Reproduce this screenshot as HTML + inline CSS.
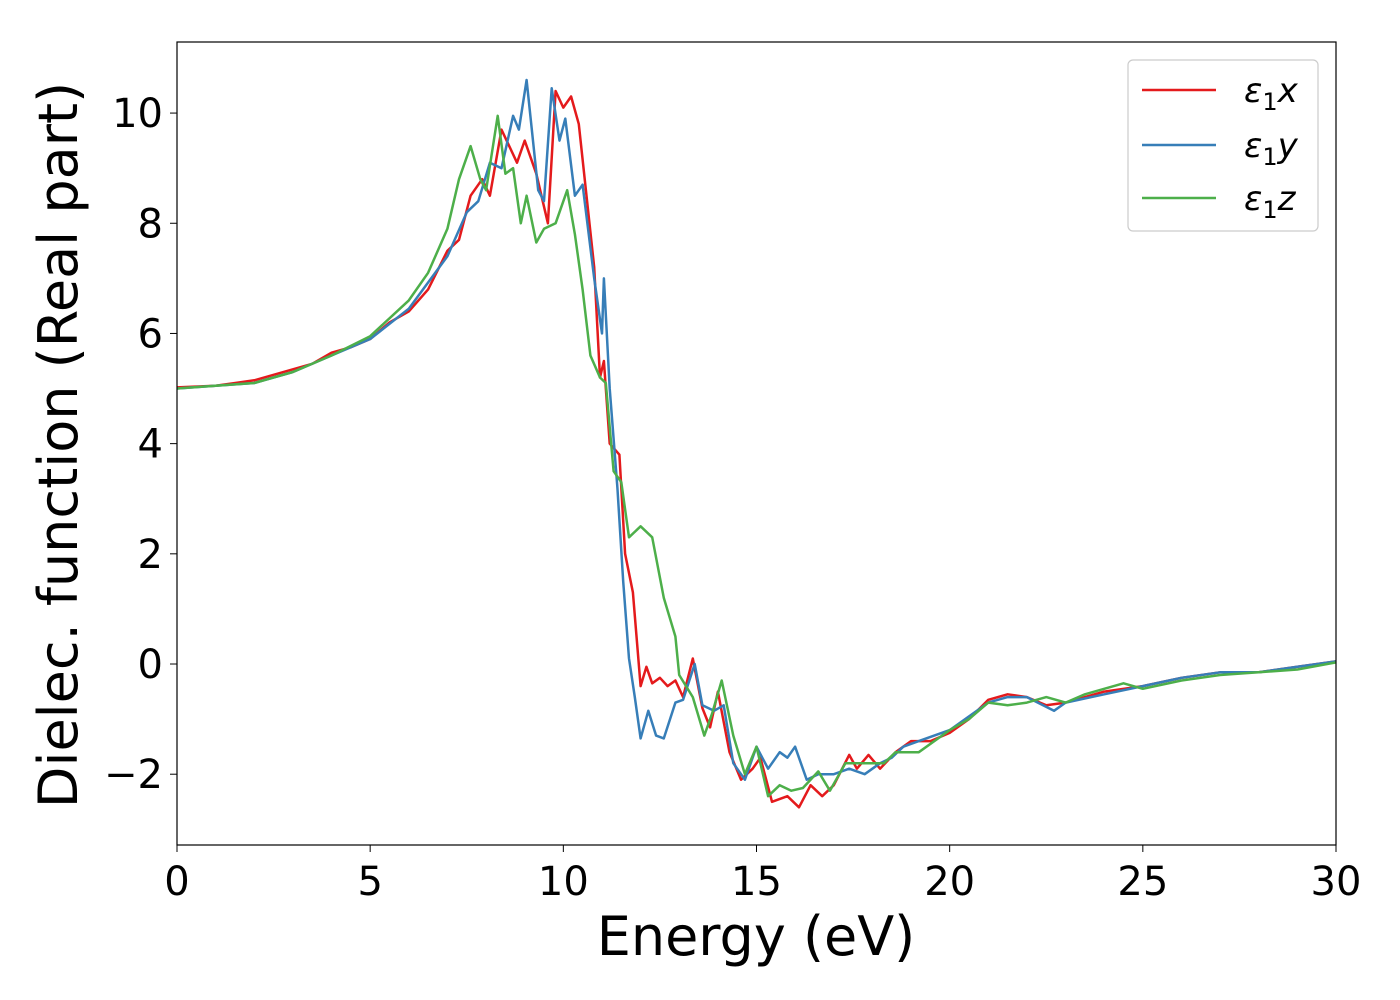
<!DOCTYPE html>
<html><head><meta charset="utf-8"><style>
body{margin:0;background:#fff}
svg{display:block;font-family:"DejaVu Sans","Liberation Sans",sans-serif}
</style></head><body>
<svg id="chart" width="1400" height="1000" viewBox="0 0 1400 1000" xmlns="http://www.w3.org/2000/svg">
<rect width="1400" height="1000" fill="#fff"/>
<g id="ticks"></g>
<g id="series"></g>
<rect x="177" y="42" width="1159" height="803" fill="none" stroke="#000" stroke-width="1.2"/>
<text x="756" y="955" font-size="54" text-anchor="middle">Energy (eV)</text>
<text transform="translate(77,445) rotate(-90)" font-size="54" text-anchor="middle">Dielec. function (Real part)</text>
<g>
<rect x="1128" y="60" width="190" height="171" rx="5" fill="#fff" stroke="#ccc" stroke-width="1.2"/>
<line x1="1142" y1="90" x2="1216" y2="90" stroke="#e41a1c" stroke-width="2.5"/>
<text x="1244" y="102" font-size="34" font-style="italic">ε<tspan font-size="24" dy="8" font-style="normal">1</tspan><tspan dy="-8">x</tspan></text>
<line x1="1142" y1="145" x2="1216" y2="145" stroke="#377eb8" stroke-width="2.5"/>
<text x="1244" y="157" font-size="34" font-style="italic">ε<tspan font-size="24" dy="8" font-style="normal">1</tspan><tspan dy="-8">y</tspan></text>
<line x1="1142" y1="198" x2="1216" y2="198" stroke="#4daf4a" stroke-width="2.5"/>
<text x="1244" y="210" font-size="34" font-style="italic">ε<tspan font-size="24" dy="8" font-style="normal">1</tspan><tspan dy="-8">z</tspan></text>
</g>
</svg>
<script>
const xTicks=[0,5,10,15,20,25,30];
const yTicks=[-2,0,2,4,6,8,10];
const redX=[0,1,2,3,3.5,4,4.5,5,5.5,6,6.5,7,7.3,7.6,7.9,8.1,8.4,8.8,9.0,9.3,9.6,9.8,10.0,10.2,10.4,10.6,10.8,10.95,11.05,11.2,11.45,11.6,11.8,12.0,12.15,12.3,12.5,12.7,12.9,13.1,13.35,13.6,13.8,14.0,14.3,14.6,14.9,15.1,15.4,15.8,16.1,16.4,16.7,17.0,17.4,17.6,17.9,18.2,18.6,19.0,19.5,20,20.5,21,21.5,22,22.5,23,23.5,24,25,26,27,28,29,30];
const redY=[5.02,5.05,5.15,5.35,5.45,5.65,5.75,5.9,6.2,6.4,6.8,7.5,7.7,8.5,8.8,8.5,9.7,9.1,9.5,8.9,8.0,10.4,10.1,10.3,9.8,8.5,7.2,5.2,5.5,4.0,3.8,2.0,1.3,-0.4,-0.05,-0.35,-0.25,-0.4,-0.3,-0.6,0.1,-0.8,-1.15,-0.5,-1.6,-2.1,-1.9,-1.7,-2.5,-2.4,-2.6,-2.2,-2.4,-2.2,-1.65,-1.9,-1.65,-1.9,-1.6,-1.4,-1.4,-1.25,-1.0,-0.65,-0.55,-0.6,-0.75,-0.7,-0.6,-0.5,-0.4,-0.25,-0.15,-0.15,-0.05,0.05];
const blueX=[0,2,3,4,5,6,7,7.5,7.8,8.1,8.4,8.7,8.85,9.05,9.35,9.5,9.7,9.9,10.05,10.3,10.5,10.8,11.0,11.05,11.2,11.4,11.55,11.7,11.85,12.0,12.2,12.4,12.6,12.9,13.1,13.4,13.6,13.9,14.15,14.4,14.7,15.0,15.3,15.6,15.8,16.0,16.3,16.6,17.0,17.4,17.8,18.2,18.5,18.8,19.2,20,20.5,21,21.5,22,22.7,23,24,25,26,27,28,29,30];
const blueY=[5.0,5.1,5.3,5.6,5.9,6.45,7.4,8.2,8.4,9.1,9.0,9.95,9.7,10.6,8.6,8.4,10.45,9.5,9.9,8.5,8.7,7.0,6.0,7.0,5.0,3.2,1.5,0.1,-0.6,-1.35,-0.85,-1.3,-1.35,-0.7,-0.65,0.0,-0.75,-0.85,-0.75,-1.8,-2.1,-1.5,-1.9,-1.6,-1.7,-1.5,-2.1,-2.0,-2.0,-1.9,-2.0,-1.8,-1.7,-1.5,-1.4,-1.2,-0.95,-0.7,-0.6,-0.6,-0.85,-0.7,-0.55,-0.4,-0.25,-0.15,-0.15,-0.05,0.05];
const greenX=[0,2,3,4,5,6,6.5,7,7.3,7.6,7.85,8.0,8.3,8.5,8.7,8.9,9.05,9.3,9.5,9.8,10.1,10.3,10.5,10.7,10.95,11.1,11.3,11.5,11.7,12.0,12.3,12.6,12.9,13.0,13.35,13.65,13.85,14.1,14.4,14.7,15.0,15.3,15.6,15.9,16.2,16.6,16.9,17.3,17.8,18.3,18.6,19.2,20,20.5,21,21.5,22,22.5,23,23.5,24.5,25,26,27,28,29,30];
const greenY=[5.0,5.1,5.3,5.6,5.95,6.6,7.1,7.9,8.8,9.4,8.8,8.6,9.95,8.9,9.0,8.0,8.5,7.65,7.9,8.0,8.6,7.8,6.8,5.6,5.2,5.1,3.5,3.3,2.3,2.5,2.3,1.2,0.5,-0.2,-0.6,-1.3,-0.9,-0.3,-1.3,-2.0,-1.5,-2.4,-2.2,-2.3,-2.25,-1.95,-2.3,-1.8,-1.8,-1.8,-1.6,-1.6,-1.2,-1.0,-0.7,-0.75,-0.7,-0.6,-0.7,-0.55,-0.35,-0.45,-0.3,-0.2,-0.15,-0.1,0.03];
const X0=177,X1=1336,Y0=42,Y1=845,XMIN=0,XMAX=30,YMIN=-3.285,YMAX=11.29;
function sx(v){return X0+(v-XMIN)/(XMAX-XMIN)*(X1-X0);}
function sy(v){return Y1-(v-YMIN)/(YMAX-YMIN)*(Y1-Y0);}
const NS="http://www.w3.org/2000/svg";
const tg=document.getElementById('ticks');
xTicks.forEach(t=>{
  const l=document.createElementNS(NS,'line');
  l.setAttribute('x1',sx(t));l.setAttribute('x2',sx(t));l.setAttribute('y1',Y1);l.setAttribute('y2',Y1+7);l.setAttribute('stroke','#000');
  
  
  tg.appendChild(l);
  const tx=document.createElementNS(NS,'text');
  tx.setAttribute('x',sx(t));tx.setAttribute('y',Y1+50);tx.setAttribute('font-size','40');tx.setAttribute('text-anchor','middle');
  tx.textContent=t;
  
  
  tg.appendChild(tx);
});
yTicks.forEach(t=>{
  const l=document.createElementNS(NS,'line');
  l.setAttribute('x1',X0-7);l.setAttribute('x2',X0);l.setAttribute('y1',sy(t));l.setAttribute('y2',sy(t));l.setAttribute('stroke','#000');
  
  
  tg.appendChild(l);
  const tx=document.createElementNS(NS,'text');
  tx.setAttribute('x',X0-14);tx.setAttribute('y',sy(t)+14);tx.setAttribute('font-size','40');tx.setAttribute('text-anchor','end');
  tx.textContent=t<0?'\u2212'+Math.abs(t):String(t);
  
  
  tg.appendChild(tx);
});
const sg=document.getElementById('series');
function draw(xs,ys,color,name){
  const p=document.createElementNS(NS,'polyline');
  p.setAttribute('points',xs.map((x,i)=>sx(x).toFixed(1)+','+sy(ys[i]).toFixed(1)).join(' '));
  p.setAttribute('fill','none');p.setAttribute('stroke',color);p.setAttribute('stroke-width','2.5');p.setAttribute('stroke-linejoin','round');
  
  
  sg.appendChild(p);
}
draw(redX,redY,'#e41a1c','series-eps1-x');
draw(blueX,blueY,'#377eb8','series-eps1-y');
draw(greenX,greenY,'#4daf4a','series-eps1-z');
</script>
</body></html>
